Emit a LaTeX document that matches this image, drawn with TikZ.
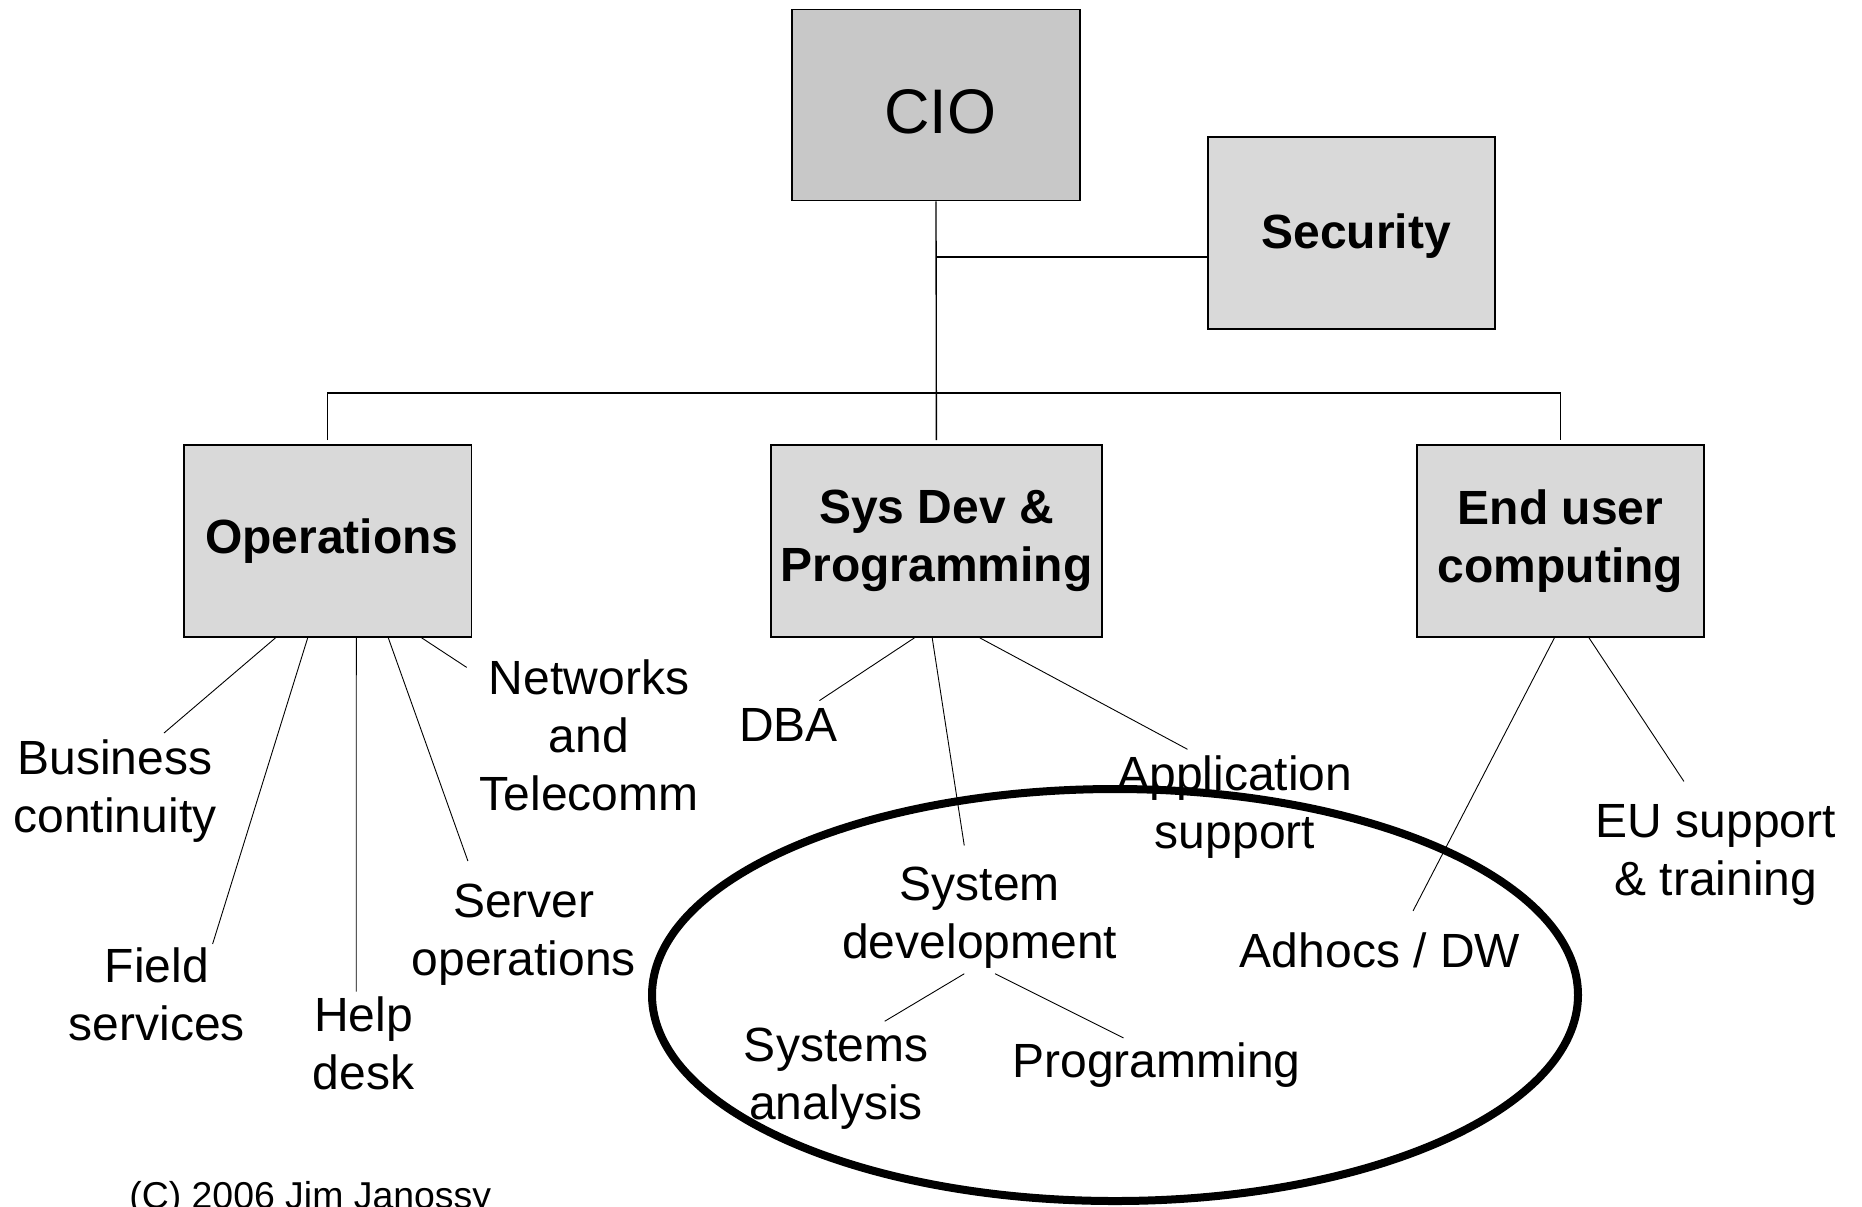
\documentclass[tikz,border=0pt]{standalone}
\usepackage{fontspec}
\setmainfont{Liberation Sans}
\definecolor{ciogray}{RGB}{200,200,200}
\definecolor{boxgray}{RGB}{217,217,217}
\begin{document}
\begin{tikzpicture}[x=0.5pt,y=-0.5pt,
    unit/.style={draw, line width=0.85pt, fill=boxgray, inner sep=0pt,
      minimum width=143.7pt, minimum height=96pt, align=center,
      font=\fontsize{24}{29}\selectfont\bfseries},
    leaf/.style={align=center, inner sep=0pt, font=\fontsize{24}{29}\selectfont},
    tree/.style={line width=0.67pt},
    twig/.style={line width=0.45pt}]
  \useasboundingbox (0,0) rectangle (1862,1206);

  \node[unit, fill=ciogray, minimum height=95.5pt] (cio) at (936,105) {};
  \node[font=\fontsize{31.5}{36}\selectfont] (cio-l) at (940.5,112) {CIO};
  \node[unit] (sec) at (1351.5,233) {};
  \node[font=\fontsize{24}{29}\selectfont\bfseries] (sec-l) at (1356,236) {Security};
  \node[unit] (ops) at (327.7,541) {\,Operations};
  \node[unit, minimum width=165.6pt] (dev) at (936.4,541) {Sys Dev \&\\Programming};
  \node[unit] (euc) at (1560.6,541) {End user\\computing};

  \coordinate (sec-j) at (936,257);
  \coordinate (bar) at (936,393);
  \draw[tree] (cio.south) -- ([yshift=2pt]dev.north);
  \draw[tree] (sec-j) -- (sec-j -| sec.west);
  \draw[tree] ([yshift=2pt]ops.north) -- (ops.north |- bar) -- (euc.north |- bar) -- ([yshift=2pt]euc.north);

  \begin{scope}[every node/.style={leaf}]
    \node (bc) at (115,791) {Business\\continuity};
    \node (fs) at (156.75,994) {Field\\services};
    \node (hd) at (363.4,1043) {Help\\desk};
    \node (so) at (523.7,935) {Server\\operations};
    \node (nt) at (589,735) {Networks\\and\\Telecomm};
    \node (dba) at (788.5,725) {DBA};
    \node (sd) at (979.7,918) {System\\development};
    \node (as) at (1235,807) {Application\\support};
    \node (ad) at (1380,950) {Adhocs / DW};
    \node (eu) at (1716,855) {EU support\\\& training};
    \node (sa) at (836,1079) {Systems\\analysis};
    \node (pr) at (1156.6,1065) {Programming};
  \end{scope}

  \coordinate (bc-e) at (164,733);
  \coordinate (fs-e) at (212.6,944);
  \coordinate (hd-e) at (356.25,991.6);
  \coordinate (so-e) at (467.9,861);
  \coordinate (nt-e) at (466.7,667.4);
  \coordinate (dba-e) at (819.4,700.6);
  \coordinate (sd-e) at (964.25,845.5);
  \coordinate (as-e) at (1187.5,749.3);
  \coordinate (ad-e) at (1413.1,910.8);
  \coordinate (eu-e) at (1683.9,781.4);
  \coordinate (sd-a) at (964.25,973.75);
  \coordinate (sd-b) at (995.1,973.75);
  \coordinate (sa-e) at (884.7,1021.25);
  \coordinate (pr-e) at (1123.4,1037.9);

  \draw[twig] ([xshift=-26.1pt]ops.south) -- (bc-e);
  \draw[twig] ([xshift=-10pt]ops.south) -- (fs-e);
  \draw[twig] ([xshift=14.3pt]ops.south) -- (hd-e);
  \draw[twig] ([xshift=30.3pt]ops.south) -- (so-e);
  \draw[twig] ([xshift=47pt]ops.south) -- (nt-e);
  \draw[twig] ([xshift=-11pt]dev.south) -- (dba-e);
  \draw[twig] ([xshift=-2.1pt]dev.south) -- (sd-e);
  \draw[twig] ([xshift=21.7pt]dev.south) -- (as-e);
  \draw[twig] ([xshift=-3.1pt]euc.south) -- (ad-e);
  \draw[twig] ([xshift=14.2pt]euc.south) -- (eu-e);
  \draw[twig] (sd-a) -- (sa-e);
  \draw[twig] (sd-b) -- (pr-e);

  \draw[line width=4pt] (1115,995) ellipse [x radius=463, y radius=206];

  \node[anchor=base west, inner sep=0pt, font=\fontsize{18.7}{22}\selectfont] (copy) at (129,1208.4) {(C) 2006 Jim Janossy};
\end{tikzpicture}
\end{document}
